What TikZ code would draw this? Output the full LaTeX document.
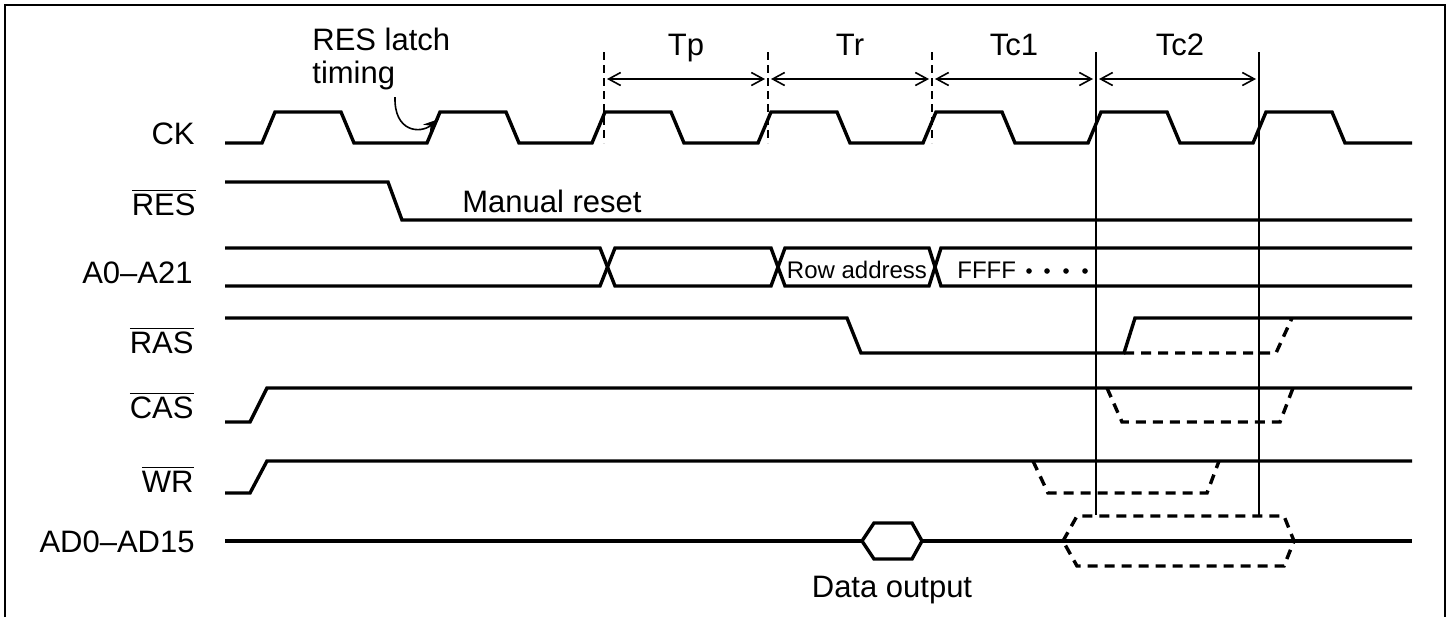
\documentclass[tikz,border=0pt]{standalone}
\usepackage{fontspec}
\setmainfont{Liberation Sans}
\usetikzlibrary{arrows.meta}
\begin{document}
\begin{tikzpicture}[x=0.5pt,y=-0.5pt,
  sig/.style={line width=1.7pt, line join=miter},
  dsig/.style={sig, dash pattern=on 5pt off 3.5pt},
  thinl/.style={line width=0.8pt},
  dashv/.style={line width=0.6pt, dash pattern=on 4pt off 2.5pt},
  lbl/.style={font=\fontsize{15.5}{18}\selectfont, inner sep=0pt},
  slbl/.style={font=\fontsize{12}{14}\selectfont, inner sep=0pt},
  dimarrow/.style={thinl, {Straight Barb[length=6pt,width=6.5pt]}-{Straight Barb[length=6pt,width=6.5pt]}},
]
\useasboundingbox (0,0) rectangle (1450,617);
% frame
\draw[line width=1pt] (5,617) -- (5,5) -- (1445,5) -- (1445,617);

% signal names
\node[lbl, anchor=base east] (nck)  at (195,144) {CK};
\node[lbl, anchor=base east] (nres) at (196,215) {$\overline{\hbox{RES}}$};
\node[lbl, anchor=base east] (na)   at (193,283) {A0–A21};
\node[lbl, anchor=base east] (nras) at (194,353) {$\overline{\hbox{RAS}}$};
\node[lbl, anchor=base east] (ncas) at (194,418) {$\overline{\hbox{CAS}}$};
\node[lbl, anchor=base east] (nwr)  at (194,492) {$\overline{\hbox{WR}}$};
\node[lbl, anchor=base east] (nad)  at (195,552) {AD0–AD15};

% CK
\draw[sig] (225,143) -- (262,143) -- (275,112) -- (341,112) -- (354,143)
  -- (427,143) -- (440,112) -- (506,112) -- (519,143)
  -- (592,143) -- (605,112) -- (671,112) -- (684,143)
  -- (758,143) -- (771,112) -- (837,112) -- (850,143)
  -- (923,143) -- (936,112) -- (1002,112) -- (1015,143)
  -- (1088,143) -- (1101,112) -- (1167,112) -- (1180,143)
  -- (1253,143) -- (1266,112) -- (1332,112) -- (1345,143) -- (1412,143);

% period markers
\coordinate (d1t) at (604,52);  \coordinate (d1b) at (604,143);
\coordinate (d2t) at (768,52);  \coordinate (d2b) at (768,143);
\coordinate (d3t) at (932,52);  \coordinate (d3b) at (932,143);
\coordinate (s1t) at (1096,52); \coordinate (s1b) at (1096,515);
\coordinate (s2t) at (1259,52); \coordinate (s2b) at (1259,515);
\draw[dashv] (d1t) -- (d1b);
\draw[dashv] (d2t) -- (d2b);
\draw[dashv] (d3t) -- (d3b);
\draw[thinl] (s1t) -- (s1b);
\draw[thinl] (s2t) -- (s2b);

\coordinate (a1) at (604,79);
\coordinate (a2) at (768,79);
\coordinate (a3) at (932,79);
\coordinate (a4) at (1096,79);
\coordinate (a5) at (1259,79);
\draw[dimarrow, shorten <=1.5pt, shorten >=1.5pt] (a1) -- (a2);
\draw[dimarrow, shorten <=1.5pt, shorten >=1.5pt] (a2) -- (a3);
\draw[dimarrow, shorten <=1.5pt, shorten >=1.5pt] (a3) -- (a4);
\draw[dimarrow, shorten <=1.5pt, shorten >=1.5pt] (a4) -- (a5);
\node[lbl, anchor=base] (tp)  at (686,55) {Tp};
\node[lbl, anchor=base] (tr)  at (850,55) {Tr};
\node[lbl, anchor=base] (tc1) at (1014,55) {Tc1};
\node[lbl, anchor=base] (tc2) at (1180,55) {Tc2};

% RES latch timing
\node[lbl, anchor=base west] (latch1) at (312,50) {RES latch};
\node[lbl, anchor=base west] (latch2) at (312,83) {timing};
\coordinate (lstart) at (395,97);
\coordinate (ltip) at (439,119);
\draw[thinl, -{Stealth[length=8pt,width=5.5pt]}] (lstart) .. controls (394,132) and (420,134) .. (ltip);

% RES
\draw[sig] (225,182) -- (388,182) -- (402,220) -- (1412,220);
\node[lbl, anchor=base west] (manual) at (462,212) {Manual reset};

% A0-A21
\draw[sig] (225,248) -- (600,248) -- (615,286) -- (771,286) -- (785,248) -- (929,248) -- (941,286) -- (1412,286);
\draw[sig] (225,286) -- (600,286) -- (615,248) -- (771,248) -- (785,286) -- (929,286) -- (941,248) -- (1412,248);
\node[slbl, anchor=base] (row) at (857,278) {Row address};
\node[slbl, anchor=base west] (ffff) at (957,278) {FFFF};
\foreach \px in {1029,1047,1066,1085} \fill (\px,271) circle[radius=1.4pt];

% RAS
\draw[sig] (225,318) -- (847,318) -- (861,353) -- (1124,353) -- (1135,318) -- (1412,318);
\draw[dsig] (1124,353) -- (1276,353) -- (1292,318);

% CAS
\draw[sig] (225,422) -- (250,422) -- (267,388) -- (1412,388);
\draw[dsig] (1107,388) -- (1122,422) -- (1280,422) -- (1293,388);

% WR
\draw[sig] (225,493) -- (250,493) -- (267,461) -- (1412,461);
\draw[dsig] (1033,461) -- (1048,493) -- (1207,493) -- (1219,461);

% AD0-AD15
\draw[sig] (225,541) -- (862,541);
\draw[sig] (922,541) -- (1412,541);
\draw[sig] (862,541) -- (874,523) -- (912,523) -- (922,541) -- (912,559) -- (874,559) -- cycle;
\draw[dsig] (1063,541) -- (1077,516) -- (1284,516) -- (1294,541) -- (1284,566) -- (1077,566) -- cycle;
\node[lbl, anchor=base] (dout) at (892,597) {Data output};
\end{tikzpicture}
\end{document}
